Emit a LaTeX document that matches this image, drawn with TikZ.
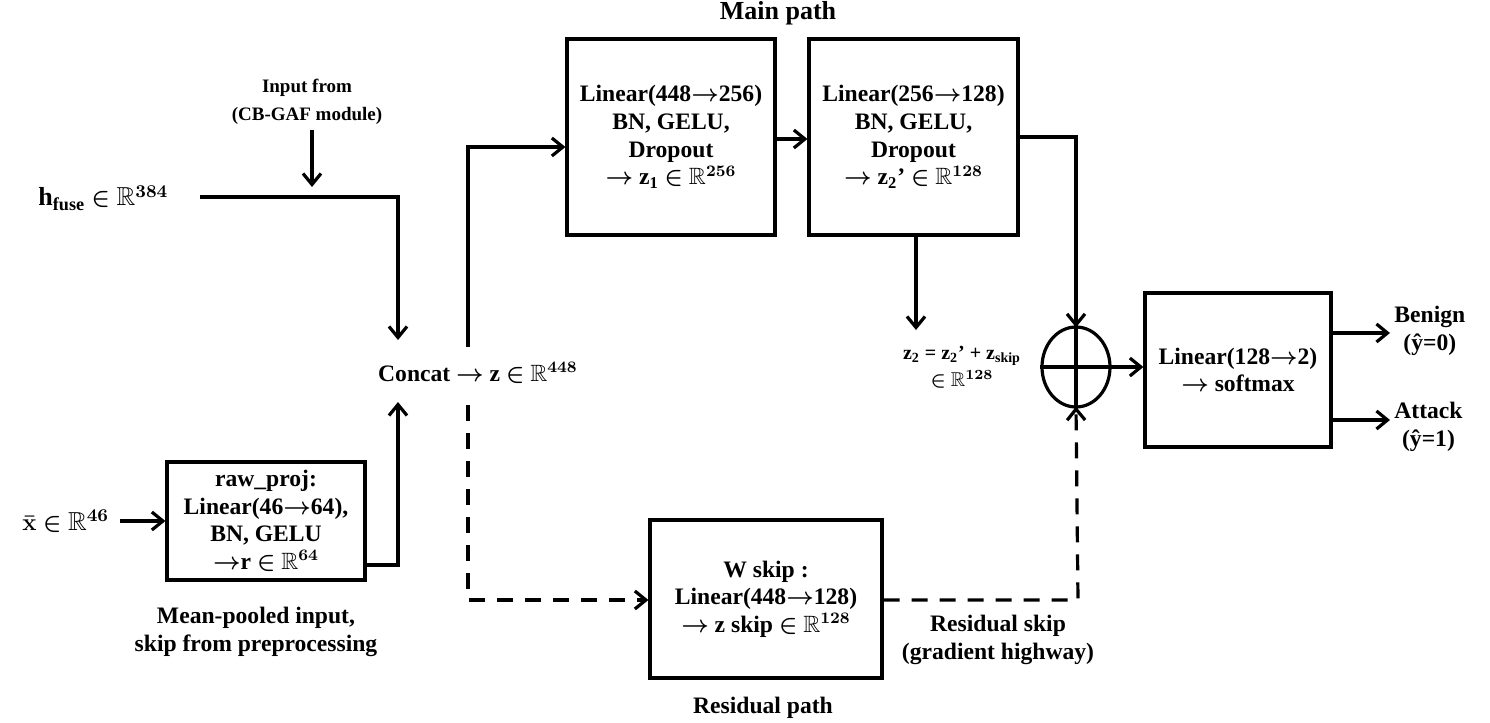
\documentclass[tikz,border=0pt]{standalone}
\usepackage{amssymb}
\usepackage{fontspec}
\setmainfont{Liberation Serif}
\usetikzlibrary{arrows.meta,shapes.geometric}
\begin{document}
\begin{tikzpicture}[x=0.5pt,y=-0.5pt,
  every node/.style={font=\fontsize{11.8}{13.8}\selectfont\bfseries\boldmath,align=center,inner sep=0pt},
  box/.style={draw,line width=1.6pt},
  ln/.style={line width=1.6pt},
  ar/.style={ln,-{Straight Barb[length=5.5pt,width=9pt,line width=1.6pt]}},
  da/.style={dash pattern=on 8pt off 6pt}]
\useasboundingbox (0,0) rectangle (1490,723);
\node[box,minimum width=104pt,minimum height=98pt] (m1) at (671,137) {Linear(448$\rightarrow$256)\\BN, GELU,\\Dropout\\$\rightarrow$ z\textsubscript{1} $\in$ $\mathbb{R}^{\mathbf{256}}$};
\node[box,minimum width=104.5pt,minimum height=98pt] (m2) at (913.5,137) {Linear(256$\rightarrow$128)\\BN, GELU,\\Dropout\\$\rightarrow$ z\textsubscript{2}' $\in$ $\mathbb{R}^{\mathbf{128}}$};
\node[box,minimum width=93pt,minimum height=77pt] (fin) at (1238,370) {Linear(128$\rightarrow$2)\\$\rightarrow$ softmax};
\node[box,minimum width=99pt,minimum height=59pt] (raw) at (266,521) {raw\_proj:\\Linear(46$\rightarrow$64),\\BN, GELU\\$\rightarrow$r $\in$ $\mathbb{R}^{\mathbf{64}}$};
\node[box,minimum width=116pt,minimum height=79pt] (ws) at (766,599) {W skip :\\Linear(448$\rightarrow$128)\\$\rightarrow$ z skip $\in$ $\mathbb{R}^{\mathbf{128}}$};
\node[draw,ellipse,line width=1.6pt,minimum width=34pt,minimum height=40pt] (sum) at (1076,367) {};
\draw[ln] (sum.north)--(sum.south) (sum.west)--(sum.east);
\node (main) at (778,13) {\fontsize{13}{15}\selectfont Main path};
\node (res) at (763,708) {Residual path};
\node (inp) at (307,102) {\fontsize{9.5}{11.5}\selectfont Input from\\\fontsize{9.5}{11.5}\selectfont (CB-GAF module)};
\node[anchor=west] (h) at (38,198) {\fontsize{13}{15}\selectfont h\textsubscript{fuse} $\in$ $\mathbb{R}^{\mathbf{384}}$};
\node[anchor=west] (x) at (22,521) {\fontsize{13}{15}\selectfont $\bar{\mathbf{x}}$ $\in$ $\mathbb{R}^{\mathbf{46}}$};
\node (cc) at (478,373) {Concat $\rightarrow$ z $\in$ $\mathbb{R}^{\mathbf{448}}$};
\node (z2) at (962,367) {\fontsize{10}{12}\selectfont z\textsubscript{2} = z\textsubscript{2}' + z\textsubscript{skip}\\\fontsize{10}{12}\selectfont$\in$ $\mathbb{R}^{\mathbf{128}}$};
\node[anchor=west] (ben) at (1394,331) {Benign\\(\^{y}=0)};
\node[anchor=west] (att) at (1394,427) {Attack\\(\^{y}=1)};
\node (mp) at (256,632) {Mean-pooled input,\\skip from preprocessing};
\node (rs) at (998,640) {Residual skip\\(gradient highway)};
\coordinate (cin) at (398,197);
\coordinate (hs) at (200,197);
\coordinate (is) at (312,130);
\coordinate (xs) at (120,521);
\draw[ar] (is) -- (312,187);
\draw[ar] (hs) -- (cin) -- (398,340);
\draw[ar] (raw.east |- 0,565) -- (398,565) -- (398,402);
\draw[ar] (xs) -- (raw.west);
\draw[ar] (468,347) -- (468,147) -- (m1.west |- 0,147);
\draw[ar,da] (468,405) -- (468,600) -- (ws.west |- 0,600);
\draw[ar] (m1.east |- 0,139) -- (m2.west |- 0,139);
\draw[ar] (m2.east |- 0,137) -- (1076,137) -- ([yshift=-1pt]sum.north);
\draw[ar] (m2.south -| 916,0) -- (916,330);
\draw[ar,da] (ws.east |- 0,600) -- (1078,600) -- ([yshift=1pt]sum.south);
\draw[ar] (sum.east) -- (fin.west |- sum.east);
\draw[ar] (fin.east |- 0,333) -- (1390,333);
\draw[ar] (fin.east |- 0,420) -- (1390,420);
\end{tikzpicture}
\end{document}
